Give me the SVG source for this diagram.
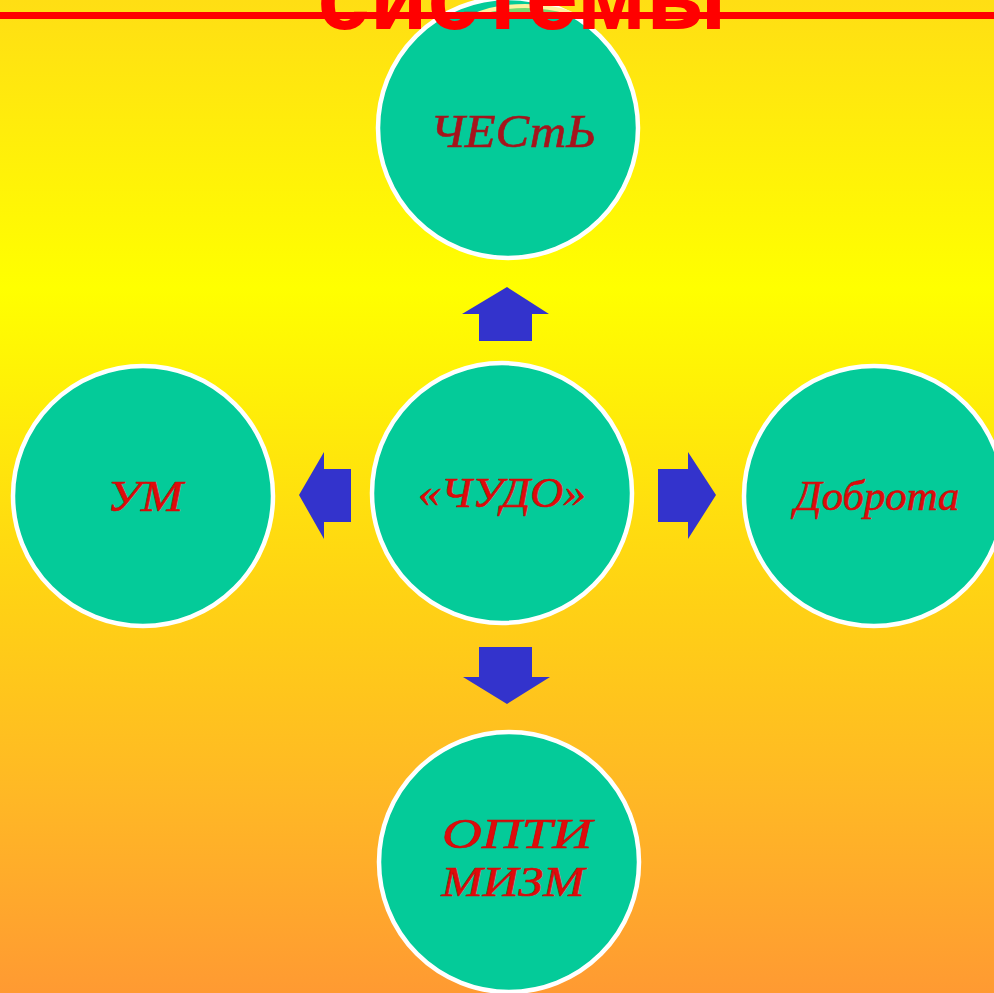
<svg xmlns="http://www.w3.org/2000/svg" width="994" height="993" viewBox="0 0 994 993">
<defs>
<linearGradient id="bg" x1="0" y1="0" x2="0" y2="1">
<stop offset="0" stop-color="#FFDE14"/>
<stop offset="0.29" stop-color="#FFFF00"/>
<stop offset="0.6" stop-color="#FFD214"/>
<stop offset="0.8" stop-color="#FFB825"/>
<stop offset="1" stop-color="#FF9A32"/>
</linearGradient>
<clipPath id="capclip"><rect x="0" y="0" width="994" height="14"/></clipPath>
</defs>
<style>
.node circle{fill:#04CB99;stroke:#FFFFFF;stroke-width:4.5}
.lbl{font-family:"Liberation Serif","DejaVu Serif",serif;font-style:italic;fill:#E00A0A;text-anchor:middle;stroke:#C80808;stroke-width:0.6}
.arrow{fill:#3333CC}
</style>
<rect x="0" y="0" width="994" height="993" fill="url(#bg)"/>
<g id="node-chest" class="node">
<circle cx="508" cy="128" r="130"/>
<text class="lbl" x="513" y="147" font-size="46" textLength="166" lengthAdjust="spacingAndGlyphs" style="fill:#A5141C;stroke:#A5141C">ЧЕСтЬ</text>
</g>
<g id="cap" clip-path="url(#capclip)">
<ellipse cx="525" cy="28" rx="64" ry="24" fill="#FFF2A0"/>
<ellipse cx="525" cy="30" rx="60" ry="22" fill="#78DA6E"/>
</g>
<g id="node-chudo" class="node">
<circle cx="502" cy="493" r="130"/>
<text class="lbl" x="502" y="507" font-size="42" textLength="168" lengthAdjust="spacingAndGlyphs">«ЧУДО»</text>
</g>
<g id="node-um" class="node">
<circle cx="143" cy="496" r="130"/>
<text class="lbl" x="145" y="511" font-size="44" textLength="76" lengthAdjust="spacingAndGlyphs">УМ</text>
</g>
<g id="node-dobrota" class="node">
<circle cx="874" cy="496" r="130"/>
<text class="lbl" x="877" y="510" font-size="42" textLength="165" lengthAdjust="spacingAndGlyphs">Доброта</text>
</g>
<g id="node-optimizm" class="node">
<circle cx="509" cy="862" r="130"/>
<text class="lbl" x="517" y="848" font-size="42" textLength="150" lengthAdjust="spacingAndGlyphs">ОПТИ</text>
<text class="lbl" x="513" y="896" font-size="42" textLength="143" lengthAdjust="spacingAndGlyphs">МИЗМ</text>
</g>
<g id="connectors">
<polygon class="arrow" points="507,287 549,314 532,314 532,341 479,341 479,314 462,314"/>
<polygon class="arrow" points="479,647 532,647 532,677 550,677 507,704 463,677 479,677"/>
<polygon class="arrow" points="299,495 324,452 324,469 351,469 351,522 324,522 324,539"/>
<polygon class="arrow" points="716,495 688,452 688,469 658,469 658,522 688,522 688,539"/>
</g>
<g id="title">
<rect x="0" y="12" width="994" height="7" fill="#FF0000"/>
<text x="522" y="29" font-family="Liberation Sans, Arial, sans-serif" font-weight="bold" font-size="96" fill="#FF0000" text-anchor="middle" textLength="409" lengthAdjust="spacingAndGlyphs">системы</text>
</g>
</svg>
